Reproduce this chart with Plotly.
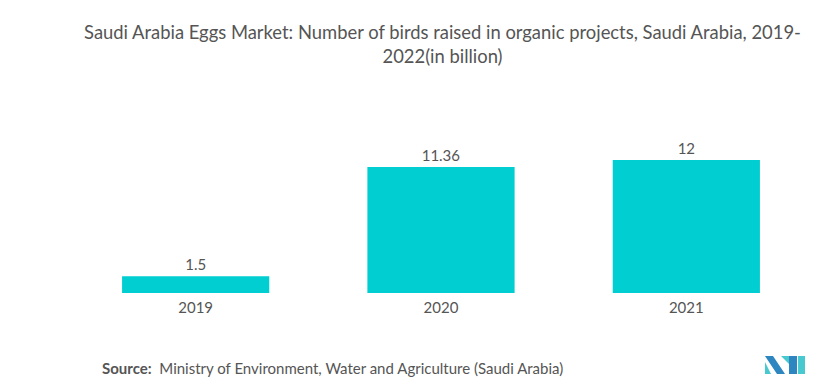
import plotly.graph_objects as go

categories = ["2019", "2020", "2021"]
values = [1.5, 11.36, 12]
value_labels = ["1.5", "11.36", "12"]

title_text = ("Saudi Arabia Eggs Market: Number of birds raised in organic projects, Saudi Arabia, 2019-"
              "<br>2022(in billion)")
source_label = "Source:"
source_text = "Ministry of Environment, Water and Agriculture (Saudi Arabia)"

# page body has an 8px margin, so the figure is drawn 8px smaller and offset
OFF = 8
W, H = 835 - OFF, 380 - OFF
L, R, T, B = 73 - OFF, 26, 100 - OFF, 87
PW, PH = W - L - R, H - T - B

fig = go.Figure()
fig.add_trace(go.Bar(
    x=categories, y=values, text=value_labels, textposition="outside",
    marker=dict(color="#00CED1", line=dict(width=0)),
    textfont=dict(family="Lato, sans-serif", size=15, color="#555555"),
    width=0.6, cliponaxis=False,
))

fig.update_layout(
    width=W, height=H,
    paper_bgcolor="white", plot_bgcolor="white",
    margin=dict(l=L, r=R, t=T, b=B),
    showlegend=False,
    title=dict(text=title_text, x=(442.5 - OFF) / W, xanchor="center",
               y=1 - 31 / H, yanchor="top",
               font=dict(family="Lato, sans-serif", size=18.4, color="#555555")),
    xaxis=dict(showgrid=False, showline=False, zeroline=False, ticks="",
               ticklabelstandoff=4,
               tickfont=dict(family="Lato, sans-serif", size=15, color="#555555")),
    yaxis=dict(visible=False, range=[0, 17.4]),
    bargap=0.4,
)

fig.add_annotation(
    xref="paper", yref="paper", x=(100 - 73) / PW, y=-(368 - 293) / PH,
    xanchor="left", yanchor="middle", showarrow=False,
    text=f"<b>{source_label}</b>  {source_text}",
    font=dict(family="Lato, sans-serif", size=15, color="#555555"),
)

# logo (reference pixel coords)
logo_paths = [
    ("M 765 356 L 773 356 L 785 374 L 777 374 Z", "#2E86C1"),
    ("M 765 362 L 771 374 L 765 374 Z", "#48C9D0"),
    ("M 781 356 L 789 356 L 789 364 Z", "#48C9D0"),
    ("M 789 356 L 797 356 L 797 374 L 789 374 Z", "#2E86C1"),
    ("M 798 356 L 805 356 L 805 374 L 798 374 Z", "#48C9D0"),
]
shapes = []
for p, c in logo_paths:
    toks = p.split()
    out = []
    i = 0
    while i < len(toks):
        t = toks[i]
        if t in ("M", "L"):
            xv = (float(toks[i + 1]) - 73) / PW
            yv = (293 - float(toks[i + 2])) / PH
            out.append(f"{t} {xv:.4f} {yv:.4f}")
            i += 3
        else:
            out.append(t)
            i += 1
    shapes.append(dict(type="path", path=" ".join(out), xref="x domain", yref="y domain",
                       fillcolor=c, line=dict(width=0), layer="above"))
fig.update_layout(shapes=shapes)

fig.write_html("out.html")
